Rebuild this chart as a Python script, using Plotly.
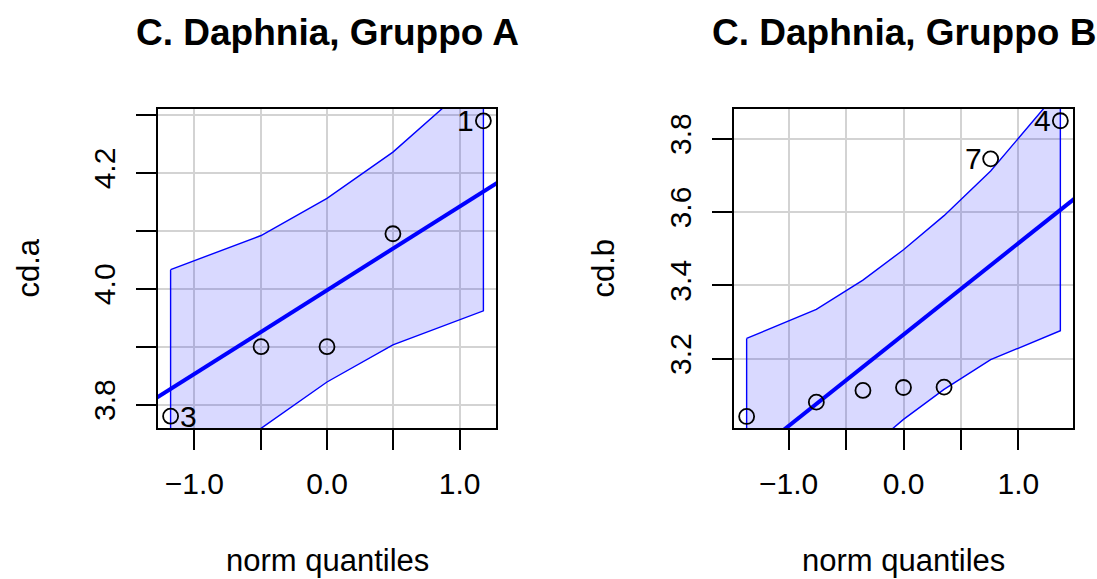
import plotly.graph_objects as go

# ---- data -------------------------------------------------------------
# Gruppo A (n = 5)
theo_a = [-1.179, -0.497, 0.0, 0.497, 1.179]
cd_a = [3.78, 3.90, 3.90, 4.095, 4.29]
env_a_upper = [4.033, 4.092, 4.156, 4.236, 4.374]
env_a_lower = [3.621, 3.759, 3.839, 3.903, 3.962]
line_a = {"intercept": 3.9975, "slope": 0.1446}
labels_a = {"1": (1.179, 4.29, "right"), "3": (-1.179, 3.78, "left")}

# Gruppo B (n = 7)
theo_b = [-1.365, -0.7585, -0.3529, 0.0, 0.3529, 0.7585, 1.365]
cd_b = [3.042, 3.081, 3.113, 3.121, 3.122, 3.745, 3.849]
env_b_upper = [3.255, 3.334, 3.414, 3.497, 3.590, 3.712, 3.936]
env_b_lower = [2.595, 2.819, 2.940, 3.034, 3.116, 3.197, 3.276]
line_b = {"intercept": 3.2653, "slope": 0.2494}
labels_b = {"4": (1.365, 3.849, "right"), "7": (0.7585, 3.745, "right")}

x_ticks = [-1.0, -0.5, 0.0, 0.5, 1.0]
x_ticktext = ["\u22121.0", "", "0.0", "", "1.0"]
y_ticks_a = [3.8, 3.9, 4.0, 4.1, 4.2, 4.3]
y_ticktext_a = ["3.8", "", "4.0", "", "4.2", ""]
y_ticks_b = [3.2, 3.4, 3.6, 3.8]
y_ticktext_b = ["3.2", "3.4", "3.6", "3.8"]

titles = ["C. Daphnia, Gruppo A", "C. Daphnia, Gruppo B"]
ylabels = ["cd.a", "cd.b"]
xlabel = "norm quantiles"

# ---- styling ----------------------------------------------------------
W, H = 1097, 579
FONT = "Liberation Sans, Arial, Helvetica, sans-serif"
BLUE = "#0000FF"
FILL = "rgba(0,0,255,0.15)"
GRID = "#D3D3D3"

panels = [
    dict(theo=theo_a, y=cd_a, up=env_a_upper, lo=env_a_lower, line=line_a,
         labels=labels_a, xdom=(158, 496), xr=(-1.274, 1.274), yr=(3.7596, 4.3104),
         yt=y_ticks_a, ytt=y_ticktext_a, title=titles[0], ylab=ylabels[0], ylab_x=28),
    dict(theo=theo_b, y=cd_b, up=env_b_upper, lo=env_b_lower, line=line_b,
         labels=labels_b, xdom=(734, 1073), xr=(-1.475, 1.475), yr=(3.0105, 3.881),
         yt=y_ticks_b, ytt=y_ticktext_b, title=titles[1], ylab=ylabels[1], ylab_x=603),
]
ytop, ybot = 109, 428

fig = go.Figure()
annotations = []
layout_axes = {}

for i, p in enumerate(panels, start=1):
    xa = "x" if i == 1 else f"x{i}"
    ya = "y" if i == 1 else f"y{i}"
    # confidence envelope polygon
    fig.add_trace(go.Scatter(
        x=p["theo"] + p["theo"][::-1] + [p["theo"][0]],
        y=p["up"] + p["lo"][::-1] + [p["up"][0]],
        mode="lines", fill="toself", fillcolor=FILL,
        line=dict(color=BLUE, width=1.4), xaxis=xa, yaxis=ya,
        hoverinfo="skip", showlegend=False))
    # reference line
    xs = [p["xr"][0] - 1, p["xr"][1] + 1]
    fig.add_trace(go.Scatter(
        x=xs, y=[p["line"]["intercept"] + p["line"]["slope"] * v for v in xs],
        mode="lines", line=dict(color=BLUE, width=4), xaxis=xa, yaxis=ya,
        hoverinfo="skip", showlegend=False))
    # sample quantiles
    fig.add_trace(go.Scatter(
        x=p["theo"], y=p["y"], mode="markers",
        marker=dict(symbol="circle-open", size=15, color="black",
                    line=dict(width=1.8, color="black")),
        xaxis=xa, yaxis=ya, showlegend=False, cliponaxis=False))
    # identified points
    for txt, (lx, ly, side) in p["labels"].items():
        annotations.append(dict(
            x=lx, y=ly, xref=xa, yref=ya, text=txt, showarrow=False,
            xanchor="right" if side == "right" else "left",
            xshift=-7 if side == "right" else 7, yanchor="middle",
            font=dict(size=30, color="black", family=FONT)))
    x0, x1 = p["xdom"]
    axis_common = dict(
        showline=True, linecolor="black", linewidth=1.6, mirror=True,
        ticks="outside", ticklen=20, tickwidth=1.6, tickcolor="black",
        showgrid=True, gridcolor=GRID, gridwidth=1.8, zeroline=False,
        tickfont=dict(size=30, color="black", family=FONT))
    layout_axes["xaxis" if i == 1 else f"xaxis{i}"] = dict(
        axis_common, domain=[x0 / W, x1 / W], range=list(p["xr"]),
        tickmode="array", tickvals=x_ticks, ticktext=x_ticktext,
        anchor=ya, ticklabelstandoff=8)
    layout_axes["yaxis" if i == 1 else f"yaxis{i}"] = dict(
        axis_common, domain=[1 - ybot / H, 1 - ytop / H], range=list(p["yr"]),
        tickmode="array", tickvals=p["yt"], ticktext=p["ytt"], tickangle=-90,
        anchor=xa, ticklabelstandoff=9)
    # panel title
    annotations.append(dict(
        x=(x0 + x1) / 2 / W, y=1 - 33 / H, xref="paper", yref="paper",
        text=f"<b>{p['title']}</b>", showarrow=False, xanchor="center", yanchor="middle",
        font=dict(size=37, color="black", family=FONT)))
    # axis titles
    annotations.append(dict(
        x=(x0 + x1) / 2 / W, y=1 - 560 / H, xref="paper", yref="paper",
        text=xlabel, showarrow=False, xanchor="center", yanchor="middle",
        font=dict(size=31, color="black", family=FONT)))
    annotations.append(dict(
        x=p["ylab_x"] / W, y=1 - (ytop + ybot) / 2 / H, xref="paper", yref="paper",
        text=p["ylab"], showarrow=False, textangle=-90, xanchor="center", yanchor="middle",
        font=dict(size=31, color="black", family=FONT)))

fig.update_layout(
    width=W, height=H, margin=dict(l=0, r=0, t=0, b=0),
    paper_bgcolor="white", plot_bgcolor="white",
    annotations=annotations, **layout_axes)

fig.write_html("out.html")
